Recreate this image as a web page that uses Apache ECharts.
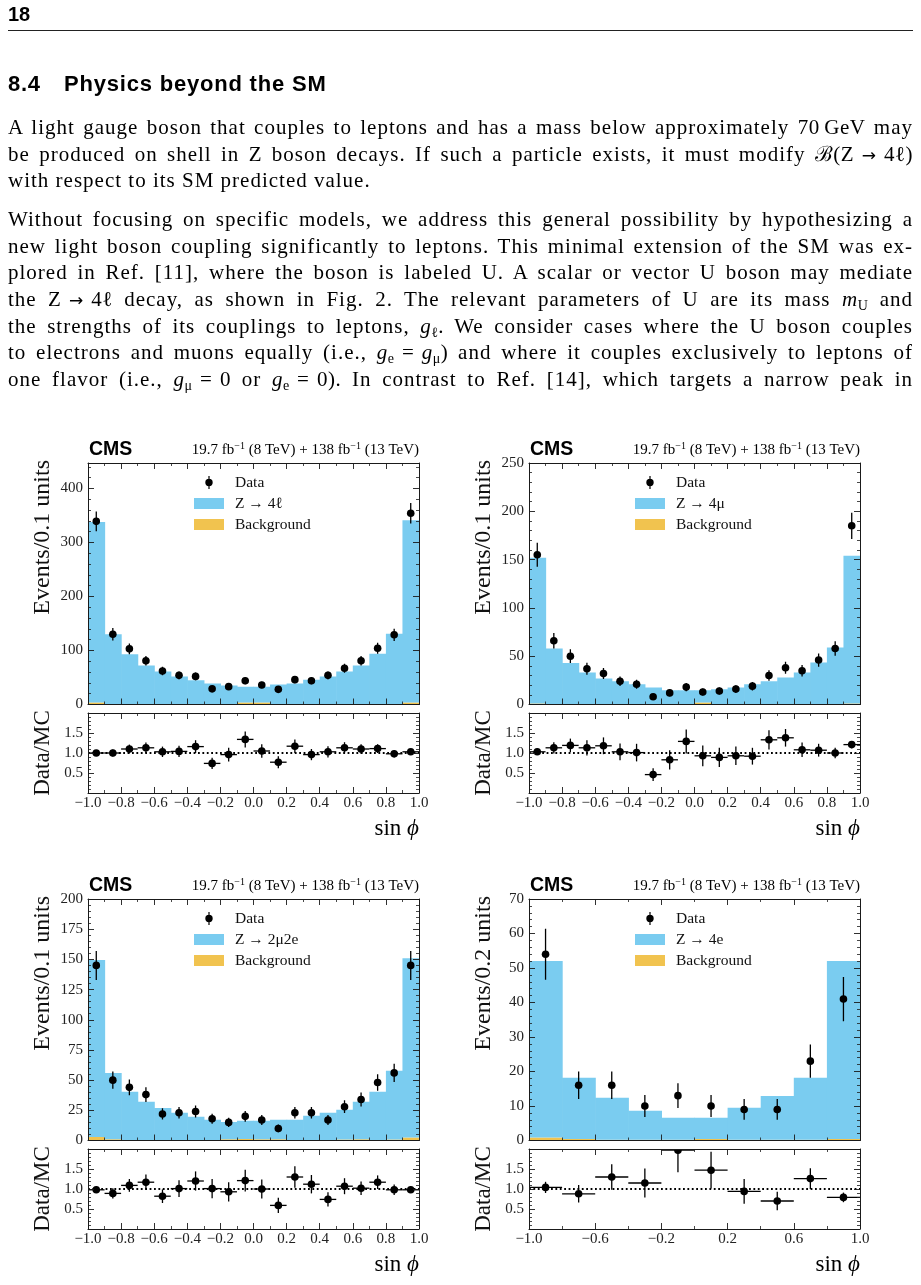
<!DOCTYPE html>
<html>
<head>
<meta charset="utf-8">
<script src="https://cdn.jsdelivr.net/npm/echarts@6/dist/echarts.min.js"></script>
<style>
html, body { margin: 0; padding: 0; background: #fff; }
#page { position: relative; width: 921px; height: 1285px; overflow: hidden; }
#chart { position: absolute; left: 0; top: 0; width: 921px; height: 1285px; }
.sans { position: absolute; font-family: "Liberation Sans", Arial, sans-serif; font-weight: bold; color: #000; }
.ln { position: absolute; left: 8px; width: 905px; font-family: "Liberation Serif", serif; font-size: 21px;
      line-height: 26.67px; color: #000; letter-spacing: 1px; text-align: justify; text-align-last: justify; }
.ln.last { text-align-last: left; }
.m { display: inline-block; letter-spacing: 0.5px; }
.ar { font-family: "DejaVu Sans", sans-serif; font-size: 17px; }
.ln sub { font-size: 14px; vertical-align: -4px; line-height: 0; }
</style>
</head>
<body>
<div id="page">
  <div id="chart"></div>
  <div class="sans" style="left:8px;top:3px;font-size:20px;">18</div>
  <div style="position:absolute;left:8px;top:29.5px;width:905px;height:0;border-top:1.3px solid #222;"></div>
  <div class="sans" style="left:8px;top:71px;font-size:22px;letter-spacing:0.7px;">8.4</div>
  <div class="sans" style="left:64px;top:71px;font-size:22px;letter-spacing:0.8px;">Physics beyond the SM</div>

  <div class="ln" style="top:114px;">A light gauge boson that couples to leptons and has a mass below approximately <span class="m">70&#8201;GeV</span> may</div>
  <div class="ln" style="top:140.7px;">be produced on shell in Z boson decays. If such a particle exists, it must modify <span class="m">&#8492;(Z&#8196;<span class="ar">&#8594;</span>&#8196;4&#8467;)</span></div>
  <div class="ln last" style="top:167.3px;">with respect to its SM predicted value.</div>

  <div class="ln" style="top:206px;">Without focusing on specific models, we address this general possibility by hypothesizing a</div>
  <div class="ln" style="top:232.7px;">new light boson coupling significantly to leptons. This minimal extension of the SM was ex-</div>
  <div class="ln" style="top:259.3px;">plored in Ref. [11], where the boson is labeled U. A scalar or vector U boson may mediate</div>
  <div class="ln" style="top:286px;">the <span class="m">Z&#8196;<span class="ar">&#8594;</span>&#8196;4&#8467;</span> decay, as shown in Fig. 2. The relevant parameters of U are its mass <span class="m"><i>m</i><sub>U</sub></span> and</div>
  <div class="ln" style="top:312.7px;">the strengths of its couplings to leptons, <span class="m"><i>g</i><sub>&#8467;</sub>.</span> We consider cases where the U boson couples</div>
  <div class="ln" style="top:339.3px;">to electrons and muons equally (i.e., <span class="m"><i>g</i><sub>e</sub>&#8196;=&#8196;<i>g</i><sub>&#956;</sub>)</span> and where it couples exclusively to leptons of</div>
  <div class="ln" style="top:366px;">one flavor (i.e., <span class="m"><i>g</i><sub>&#956;</sub>&#8196;=&#8196;0</span> or <span class="m"><i>g</i><sub>e</sub>&#8196;=&#8196;0).</span> In contrast to Ref. [14], which targets a narrow peak in</div>
</div>

<script>
// bin edges
const edges20 = [-1.0, -0.9, -0.8, -0.7, -0.6, -0.5, -0.4, -0.3, -0.2, -0.1, 0.0,
                 0.1, 0.2, 0.3, 0.4, 0.5, 0.6, 0.7, 0.8, 0.9, 1.0];
const edges10 = [-1.0, -0.8, -0.6, -0.4, -0.2, 0.0, 0.2, 0.4, 0.6, 0.8, 1.0];

// Z -> 4l
const tot4l = [338, 130, 93, 72, 61, 52, 45, 39, 35, 33, 33, 37, 39, 46, 52, 61, 72, 94, 131, 341];
const bkg4l = [3.5, 1, 0.6, 0.6, 0.6, 0.6, 0.6, 0.6, 0.8, 3.5, 3.5, 0.8, 0.6, 0.6, 0.6, 0.6, 0.6, 0.6, 1, 3.5];
const obs4l = [339, 130, 103, 81, 62, 54, 52, 29, 33, 44, 36, 28, 46, 44, 54, 67, 81, 104, 129, 354];
const err4l = [18.4, 11.4, 10.1, 9.0, 7.9, 7.3, 7.2, 5.4, 5.7, 6.6, 6.0, 5.3, 6.8, 6.6, 7.3, 8.2, 9.0, 10.2, 11.4, 18.8];
const rat4l = [1.00, 1.00, 1.10, 1.13, 1.03, 1.04, 1.16, 0.74, 0.96, 1.34, 1.05, 0.77, 1.17, 0.96, 1.03, 1.13, 1.10, 1.11, 0.98, 1.03];
const rerr4l = [0.05, 0.09, 0.11, 0.13, 0.13, 0.14, 0.16, 0.14, 0.17, 0.20, 0.17, 0.15, 0.17, 0.14, 0.14, 0.14, 0.12, 0.11, 0.09, 0.05];

// Z -> 4mu
const tot4m = [152, 58, 43, 33, 27, 24, 21, 17.6, 14.8, 14.8, 14.8, 15.9, 17.6, 21, 24, 28, 33, 43.5, 59, 154];
const bkg4m = [1, 0.4, 0.3, 0.3, 0.3, 0.3, 0.3, 0.3, 0.4, 0.5, 2, 0.5, 0.4, 0.3, 0.3, 0.3, 0.3, 0.3, 0.4, 1];
const obs4m = [155, 66, 50, 37, 32, 24, 21, 8, 12, 18, 13, 14, 16, 19, 30, 38, 35, 46, 58, 185];
const err4m = [12.4, 8.1, 7.1, 6.1, 5.7, 4.9, 4.6, 2.8, 3.5, 4.2, 3.6, 3.7, 4.0, 4.4, 5.5, 6.2, 5.9, 6.8, 7.6, 13.6];
const rat4m = [1.03, 1.13, 1.19, 1.13, 1.18, 1.03, 1.01, 0.46, 0.83, 1.29, 0.93, 0.89, 0.93, 0.92, 1.33, 1.38, 1.08, 1.07, 1.00, 1.21];
const rerr4m = [0.08, 0.14, 0.17, 0.19, 0.21, 0.21, 0.22, 0.16, 0.24, 0.30, 0.26, 0.24, 0.23, 0.21, 0.24, 0.22, 0.18, 0.16, 0.13, 0.09];

// Z -> 2mu2e
const tot2m2e = [149.5, 56, 40.3, 32, 27, 23, 19.6, 17.1, 15.4, 16.3, 16.3, 17.1, 17.1, 20.4, 23, 25.4, 32, 40.3, 57.7, 151];
const bkg2m2e = [2.8, 1, 0.5, 0.5, 0.5, 0.5, 0.5, 0.5, 1, 1.2, 1, 1, 0.5, 0.5, 0.5, 0.8, 1, 0.5, 0.8, 2.5];
const obs2m2e = [145, 50, 44, 38, 22, 23, 24, 18, 15, 20, 17, 10, 23, 23, 17, 28, 34, 48, 56, 145];
const err2m2e = [12.0, 7.1, 6.6, 6.2, 4.7, 4.8, 4.9, 4.2, 3.9, 4.5, 4.1, 3.2, 4.8, 4.8, 4.1, 5.3, 5.8, 6.9, 7.5, 12.0];
const rat2m2e = [0.98, 0.89, 1.09, 1.17, 0.82, 1.01, 1.20, 1.01, 0.93, 1.21, 1.00, 0.59, 1.30, 1.12, 0.74, 1.07, 1.02, 1.17, 0.98, 0.98];
const rerr2m2e = [0.08, 0.13, 0.16, 0.19, 0.17, 0.21, 0.24, 0.24, 0.24, 0.27, 0.24, 0.19, 0.27, 0.23, 0.18, 0.20, 0.17, 0.17, 0.13, 0.08];

// Z -> 4e (0.2 wide bins)
const tot4e = [52, 18.2, 12.4, 8.6, 6.6, 6.6, 9.5, 12.9, 18.2, 52];
const bkg4e = [0.9, 0.4, 0.2, 0.2, 0.2, 0.4, 0.2, 0.2, 0.2, 0.4];
const obs4e = [54, 16, 16, 10, 13, 10, 9, 9, 23, 41];
const err4e = [7.4, 4.0, 4.0, 3.2, 3.6, 3.2, 3.0, 3.0, 4.8, 6.4];
const rat4e = [1.04, 0.88, 1.30, 1.15, 1.97, 1.47, 0.94, 0.70, 1.26, 0.79];
const rerr4e = [0.14, 0.22, 0.32, 0.36, 0.55, 0.46, 0.31, 0.23, 0.26, 0.12];

const ratioLabels = ['0.5', '1.0', '1.5'];

const SERIF = '"Liberation Serif", "DejaVu Serif", serif';
const SANS = '"Liberation Sans", Arial, sans-serif';
const BLUE = '#7ACCF0', ORANGE = '#F1C34F', INK = '#1a1a1a';
const W = 331, HM = 241.5, GAP = 8.5, HR = 80;

const panels = [
    {name: 'Z → 4ℓ', edges: edges20, tot: tot4l, bkg: bkg4l, obs: obs4l, err: err4l, rat: rat4l, rerr: rerr4l,
     ymax: 447, yint: 100, xint: 0.2, ylab: 'Events/0.1 units', left: 88, top: 463, hideMax: true},
    {name: 'Z → 4μ', edges: edges20, tot: tot4m, bkg: bkg4m, obs: obs4m, err: err4m, rat: rat4m, rerr: rerr4m,
     ymax: 250, yint: 50, xint: 0.2, ylab: 'Events/0.1 units', left: 529, top: 463},
    {name: 'Z → 2μ2e', edges: edges20, tot: tot2m2e, bkg: bkg2m2e, obs: obs2m2e, err: err2m2e, rat: rat2m2e, rerr: rerr2m2e,
     ymax: 200, yint: 25, xint: 0.2, ylab: 'Events/0.1 units', left: 88, top: 899},
    {name: 'Z → 4e', edges: edges10, tot: tot4e, bkg: bkg4e, obs: obs4e, err: err4e, rat: rat4e, rerr: rerr4e,
     ymax: 70, yint: 10, xint: 0.4, ylab: 'Events/0.2 units', left: 529, top: 899}
];

const DATA_ICON = 'path://M3.4,0H4.6V13H3.4Z M7.7,6.5A3.7,3.7 0 1 1 0.3,6.5A3.7,3.7 0 1 1 7.7,6.5Z';
const BOX_ICON = 'path://M0,1H30V12H0Z';

function fmtX(v) {
    if (Math.abs(v) < 1e-9) return '0.0';
    return (v < 0 ? '−' : '') + Math.abs(v).toFixed(1);
}
function fmtRatio(v) {
    const s = v.toFixed(1);
    return ratioLabels.indexOf(s) >= 0 ? s : '';
}

function tickStyle() {
    return {
        axisLine: {show: true, onZero: false, lineStyle: {color: INK, width: 1}},
        axisTick: {show: true, inside: true, length: 6, lineStyle: {color: INK, width: 0.9}},
        minorTick: {show: true, length: 3, lineStyle: {color: INK, width: 0.8}},
        splitLine: {show: false}
    };
}

function makeX(grid, pos, interval, labels) {
    const a = Object.assign({type: 'value', gridIndex: grid, position: pos, min: -1, max: 1, interval: interval, z: 5}, tickStyle());
    a.minorTick.splitNumber = 2;
    a.axisLabel = {show: labels, margin: 3, fontFamily: SERIF, fontSize: 15, color: '#222', formatter: fmtX};
    return a;
}

function makeY(grid, pos, max, interval, labels, formatter, hideMax) {
    const a = Object.assign({type: 'value', gridIndex: grid, position: pos, min: 0, max: max, interval: interval, z: 5}, tickStyle());
    a.minorTick.splitNumber = 5;
    a.axisLabel = {show: labels, margin: 5, fontFamily: SERIF, fontSize: 15, color: '#222',
                   formatter: formatter, showMaxLabel: !hideMax};
    return a;
}

function renderBar(params, api) {
    const a = api.coord([api.value(0), api.value(3)]);
    const b = api.coord([api.value(1), api.value(2)]);
    return {type: 'rect', shape: {x: a[0], y: a[1], width: b[0] - a[0] + 0.6, height: b[1] - a[1]},
            style: {fill: api.visual('color')}};
}

function renderPoint(params, api) {
    const x = api.value(0), y = api.value(1), e = api.value(2);
    const c = api.coord([x, y]), t = api.coord([x, y + e]), b = api.coord([x, y - e]);
    return {type: 'group', children: [
        {type: 'line', shape: {x1: c[0], y1: t[1], x2: c[0], y2: b[1]}, style: {stroke: '#000', lineWidth: 1.3}},
        {type: 'circle', shape: {cx: c[0], cy: c[1], r: 3.8}, style: {fill: '#000'}}
    ]};
}

function renderRatio(params, api) {
    const x = api.value(0), y = api.value(1), e = api.value(2);
    const c = api.coord([x, y]), t = api.coord([x, y + e]), b = api.coord([x, y - e]);
    const l = api.coord([api.value(3), y]), r = api.coord([api.value(4), y]);
    return {type: 'group', children: [
        {type: 'line', shape: {x1: c[0], y1: t[1], x2: c[0], y2: b[1]}, style: {stroke: '#000', lineWidth: 1.3}},
        {type: 'line', shape: {x1: l[0], y1: c[1], x2: r[0], y2: c[1]}, style: {stroke: '#000', lineWidth: 1.3}},
        {type: 'circle', shape: {cx: c[0], cy: c[1], r: 3.8}, style: {fill: '#000'}}
    ]};
}

const option = {animation: false, grid: [], xAxis: [], yAxis: [], series: [], legend: [], graphic: []};

panels.forEach(p => {
    const gm = option.grid.length, gr = gm + 1;
    const rtop = p.top + HM + GAP;
    option.grid.push({left: p.left, top: p.top, width: W, height: HM});
    option.grid.push({left: p.left, top: rtop, width: W, height: HR});

    const xm = option.xAxis.length;
    option.xAxis.push(makeX(gm, 'bottom', p.xint, false), makeX(gm, 'top', p.xint, false),
                      makeX(gr, 'bottom', p.xint, true), makeX(gr, 'top', p.xint, false));
    const ym = option.yAxis.length;
    option.yAxis.push(makeY(gm, 'left', p.ymax, p.yint, true, v => String(v), p.hideMax),
                      makeY(gm, 'right', p.ymax, p.yint, false),
                      makeY(gr, 'left', 2, 0.5, true, fmtRatio),
                      makeY(gr, 'right', 2, 0.5, false));

    const bins = p.tot.map((t, i) => [p.edges[i], p.edges[i + 1], p.bkg[i], t]);
    const bkgBins = p.bkg.map((b, i) => [p.edges[i], p.edges[i + 1], 0, b]);
    const pts = p.obs.map((o, i) => [(p.edges[i] + p.edges[i + 1]) / 2, o, p.err[i]]);
    const rpts = p.rat.map((r, i) => [(p.edges[i] + p.edges[i + 1]) / 2, r, p.rerr[i], p.edges[i], p.edges[i + 1]]);

    option.series.push(
        {type: 'custom', name: 'Background', xAxisIndex: xm, yAxisIndex: ym, clip: true, z: 2,
         itemStyle: {color: ORANGE}, renderItem: renderBar, data: bkgBins},
        {type: 'custom', name: p.name, xAxisIndex: xm, yAxisIndex: ym, clip: true, z: 2,
         itemStyle: {color: BLUE}, renderItem: renderBar, data: bins},
        {type: 'custom', name: 'Data', xAxisIndex: xm, yAxisIndex: ym, clip: true, z: 4,
         itemStyle: {color: '#000'}, renderItem: renderPoint, data: pts},
        {type: 'line', name: 'unity', xAxisIndex: xm + 2, yAxisIndex: ym + 2, symbol: 'none', silent: true, z: 3,
         lineStyle: {color: '#000', width: 1.8, type: [1.8, 2.6]}, data: [[-1, 1], [1, 1]]},
        {type: 'custom', name: 'Data/MC', xAxisIndex: xm + 2, yAxisIndex: ym + 2, clip: true, z: 4,
         itemStyle: {color: '#000'}, renderItem: renderRatio, data: rpts}
    );

    option.legend.push({
        left: p.left + 106, top: p.top + 11.5, padding: 0, orient: 'vertical', itemWidth: 30, itemHeight: 13, itemGap: 5,
        selectedMode: false, symbolKeepAspect: true,
        textStyle: {fontFamily: SERIF, fontSize: 15.5, color: '#111', padding: [0, 0, 0, 6]},
        data: [{name: 'Data', icon: DATA_ICON, itemStyle: {color: '#000'}},
               {name: p.name, icon: BOX_ICON, itemStyle: {color: BLUE}},
               {name: 'Background', icon: BOX_ICON, itemStyle: {color: ORANGE}}]
    });

    option.graphic.push(
        {type: 'text', x: p.left + 1, y: p.top - 13,
         style: {text: 'CMS', font: 'bold 19.5px ' + SANS, fill: '#000', align: 'left', verticalAlign: 'middle',
                 textAlign: 'left', textVerticalAlign: 'middle'}},
        {type: 'text', x: p.left + W, y: p.top - 13,
         style: {text: '{n|19.7 fb}{s|−1}{n| (8 TeV) + 138 fb}{s|−1}{n| (13 TeV)}',
                 align: 'right', verticalAlign: 'middle', textAlign: 'right', textVerticalAlign: 'middle',
                 rich: {n: {fontFamily: SERIF, fontSize: 15, lineHeight: 17, color: '#111'},
                        s: {fontFamily: SERIF, fontSize: 10, lineHeight: 10, verticalAlign: 'top', color: '#111'}}}},
        {type: 'text', x: p.left - 45, y: p.top - 3, rotation: Math.PI / 2,
         style: {text: p.ylab, font: '24px ' + SERIF, fill: '#111', align: 'right', verticalAlign: 'middle',
                 textAlign: 'right', textVerticalAlign: 'middle'}},
        {type: 'text', x: p.left - 45, y: rtop + HR / 2, rotation: Math.PI / 2,
         style: {text: 'Data/MC', font: '23px ' + SERIF, fill: '#111', align: 'center', verticalAlign: 'middle',
                 textAlign: 'center', textVerticalAlign: 'middle'}},
        {type: 'text', x: p.left + W, y: rtop + HR + 36,
         style: {text: '{a|sin }{b|ϕ}', align: 'right', verticalAlign: 'middle', textAlign: 'right', textVerticalAlign: 'middle',
                 rich: {a: {fontFamily: SERIF, fontSize: 23, color: '#111'},
                        b: {fontFamily: SERIF, fontSize: 23, fontStyle: 'italic', color: '#111'}}}}
    );
});

const chart = echarts.init(document.getElementById('chart'), null, {renderer: 'canvas'});
chart.setOption(option);
</script>
</body>
</html>
